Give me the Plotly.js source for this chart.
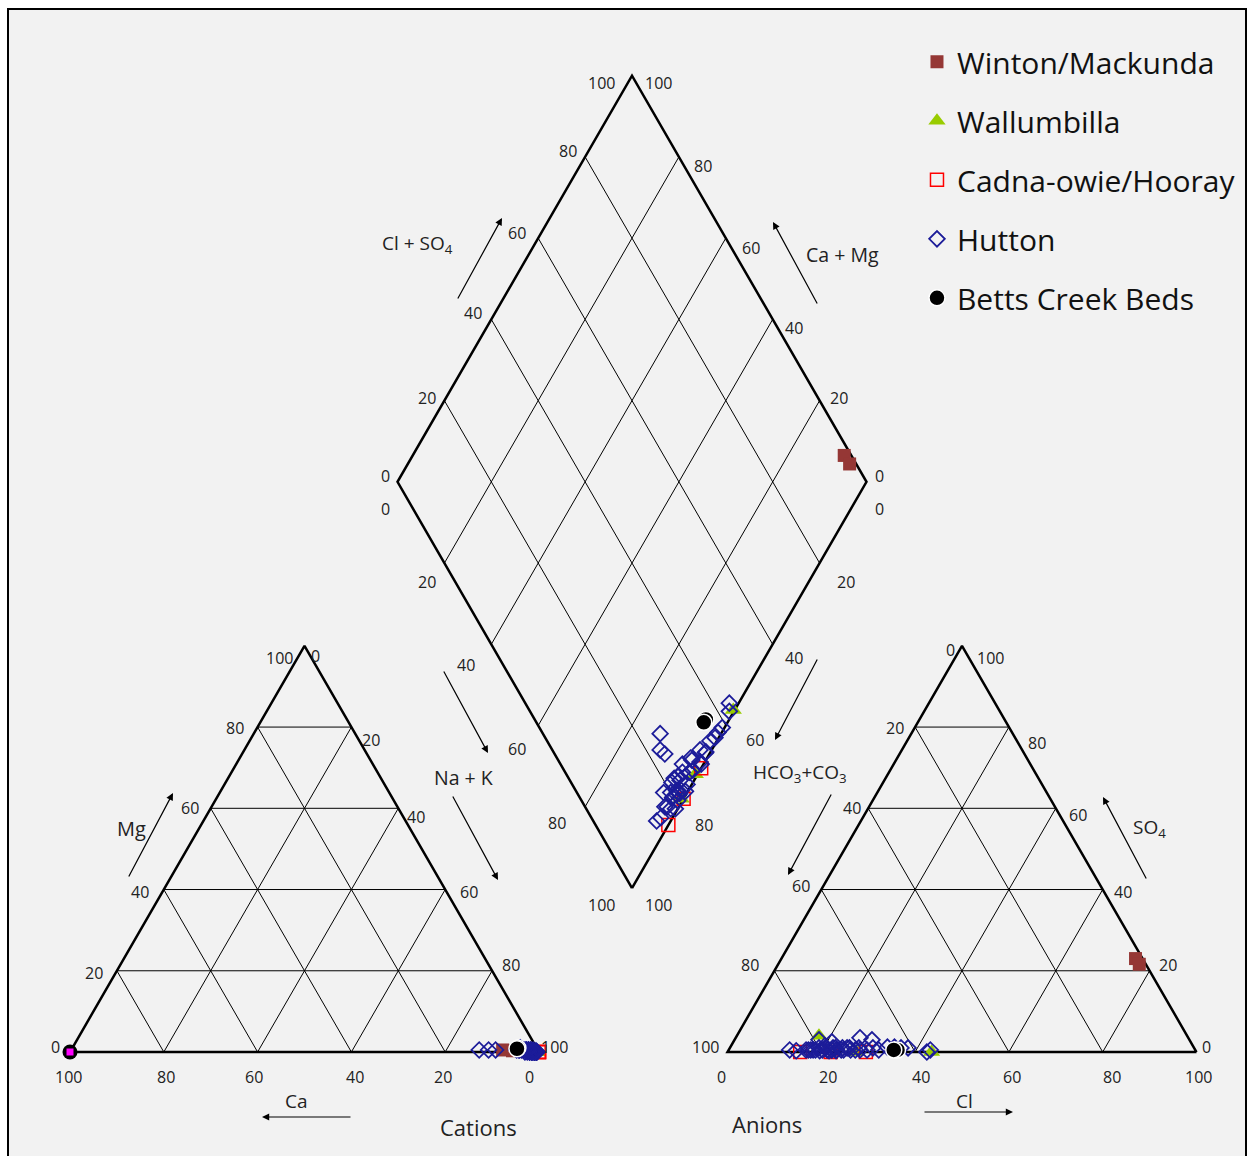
<!DOCTYPE html>
<html>
<head>
<meta charset="utf-8">
<script src="https://cdn.plot.ly/plotly-3.0.1.min.js"></script>
<style>
html,body{margin:0;padding:0;background:#ffffff;}
#chart{width:1251px;height:1156px;}
</style>
</head>
<body>
<div id="chart"></div>
<script>
// ---------------- DATA (percent of meq) ----------------
const seriesNames = ["Winton/Mackunda", "Wallumbilla", "Cadna-owie/Hooray", "Hutton", "Betts Creek Beds"];

// Winton/Mackunda
const wintonCa  = [7.5, 5.5];
const wintonMg  = [0.5, 0.3];
const wintonCl  = [75.5, 77.0];
const wintonSO4 = [23.0, 21.6];

// Wallumbilla
const wallCa  = [0.5, 0.5, 0.3];
const wallMg  = [0.0, 0.0, 0.0];
const wallCl  = [17.5, 27.5, 43.5];
const wallSO4 = [4.0, 0.0, 0.0];

// Cadna-owie/Hooray
const cadnaCa  = [0.0, 0.0, 0.0];
const cadnaMg  = [0.0, 0.0, 0.0];
const cadnaCl  = [15.5, 22.0, 29.5];
const cadnaSO4 = [0.0, 0.0, 0.0];

// Hutton
const huttonCa  = [12.5, 10.5, 9.0, 2.5, 1.5, 0.5, 0.5, 0.8, 1.5, 2.0, 3.0, 4.0, 1.0, 2.0, 1.0,
                   1.0, 2.0, 3.0, 1.5, 2.5, 3.5, 1.0, 2.0, 4.0, 0.5, 2.0, 3.0, 1.5, 2.5, 0.5,
                   3.0, 1.0, 2.0, 4.5, 1.5, 2.5, 0.5, 1.0, 3.5, 1.5, 2.0, 1.0];
const huttonMg  = [0.5, 0.5, 0.5, 0.5, 0.5, 0.0, 0.3, 0.0, 0.0, 0.5, 0.5, 0.5, 0.0, 0.0, 0.0,
                   0.0, 0.5, 0.5, 0.0, 0.5, 1.0, 0.0, 0.0, 0.5, 0.0, 0.5, 0.0, 0.5, 0.0, 0.0,
                   0.5, 0.5, 0.0, 0.5, 0.0, 0.5, 0.0, 0.0, 0.5, 0.0, 0.5, 0.0];
const huttonCl  = [24.0, 22.0, 22.5, 13.0, 43.0, 38.0, 36.5, 35.0, 33.5, 30.5, 27.5, 25.0, 29.3, 18.0, 42.5,
                   20.0, 21.0, 19.0, 22.0, 23.0, 20.5, 24.0, 25.5, 22.0, 18.5, 17.0, 16.5, 26.0, 19.5, 23.0,
                   24.5, 21.5, 20.0, 18.0, 27.0, 28.0, 29.5, 32.0, 21.0, 17.5, 14.5, 26.5];
const huttonSO4 = [1.0, 1.0, 1.0, 0.5, 0.5, 1.0, 1.0, 1.2, 1.2, 1.0, 1.0, 1.0, 3.0, 3.0, 0.0,
                   0.5, 0.5, 1.0, 0.5, 0.5, 1.0, 0.5, 1.0, 0.5, 0.5, 0.5, 0.5, 0.5, 0.3, 0.3,
                   0.5, 0.3, 1.5, 0.5, 0.5, 0.5, 0.5, 0.5, 2.5, 0.5, 0.3, 3.5];

// Betts Creek Beds
const bettsCa  = [4.0, 4.3];
const bettsMg  = [1.0, 0.8];
const bettsCl  = [36.0, 35.2];
const bettsSO4 = [0.5, 0.5];

// unlabelled sample plotted only in the cation triangle
const extraCa = [100];
const extraMg = [0];

// tick labels
const tickVals = [0, 20, 40, 60, 80, 100];
const gridVals = [20, 40, 60, 80];

// ---------------- GEOMETRY ----------------
const S = 469;
const H = S * Math.sqrt(3) / 2;
const CAT = {x: 70, y: 1052};      // cation bottom-left vertex
const AN  = {x: 727.5, y: 1052};   // anion bottom-left vertex
const DIA = {x: 632, y: 888};      // diamond bottom vertex

// cation: u = Ca fraction, v = Mg fraction (Na+K = 1-u-v)
function cat(u, v) { const na = 1 - u - v; return [CAT.x + S * na + S / 2 * v, CAT.y - H * v]; }
// anion: u = Cl fraction, v = SO4 fraction (HCO3 = 1-u-v)
function an(u, v) { return [AN.x + S * u + S / 2 * v, AN.y - H * v]; }
// diamond: a = (Cl+SO4) fraction, c = (Ca+Mg) fraction
function dia(a, c) { return [DIA.x + S / 2 * (a - c), DIA.y - H * (a + c)]; }

function triGridXY(fn) {
  const xs = [], ys = [];
  const add = (p, q) => { xs.push(p[0], q[0], null); ys.push(p[1], q[1], null); };
  gridVals.forEach(g => {
    const t = g / 100;
    add(fn(t, 0), fn(t, 1 - t));
    add(fn(0, t), fn(1 - t, t));
    add(fn(1 - t, 0), fn(0, 1 - t));
  });
  return {xs, ys};
}
function triOutline(fn) {
  const pts = [fn(1, 0), fn(0, 0), fn(0, 1), fn(1, 0)];
  return {xs: pts.map(p => p[0]), ys: pts.map(p => p[1])};
}
function diaGridXY() {
  const xs = [], ys = [];
  gridVals.forEach(g => {
    const t = g / 100;
    let p = dia(t, 0), q = dia(t, 1); xs.push(p[0], q[0], null); ys.push(p[1], q[1], null);
    p = dia(0, t); q = dia(1, t); xs.push(p[0], q[0], null); ys.push(p[1], q[1], null);
  });
  return {xs, ys};
}
function diaOutline() {
  const pts = [dia(0, 0), dia(1, 0), dia(1, 1), dia(0, 1), dia(0, 0)];
  return {xs: pts.map(p => p[0]), ys: pts.map(p => p[1])};
}

function seriesXY(ca, mg, cl, so4) {
  const xs = [], ys = [];
  for (let i = 0; i < ca.length; i++) {
    const p = cat(ca[i] / 100, mg[i] / 100); xs.push(p[0]); ys.push(p[1]);
  }
  for (let i = 0; i < cl.length; i++) {
    const p = an(cl[i] / 100, so4[i] / 100); xs.push(p[0]); ys.push(p[1]);
  }
  for (let i = 0; i < ca.length; i++) {
    const p = dia((cl[i] + so4[i]) / 100, (ca[i] + mg[i]) / 100); xs.push(p[0]); ys.push(p[1]);
  }
  return {xs, ys};
}

const traces = [];
function lineTrace(o, w) {
  traces.push({x: o.xs, y: o.ys, mode: 'lines', line: {color: '#000', width: w},
               hoverinfo: 'skip', showlegend: false, cliponaxis: false});
}
lineTrace(triGridXY(cat), 1);
lineTrace(triGridXY(an), 1);
lineTrace(diaGridXY(), 1);
lineTrace(triOutline(cat), 2.5);
lineTrace(triOutline(an), 2.5);
lineTrace(diaOutline(), 2.5);

// extra sample in cation triangle
(function(){
  const xs = [], ys = [];
  for (let i = 0; i < extraCa.length; i++) { const p = cat(extraCa[i] / 100, extraMg[i] / 100); xs.push(p[0]); ys.push(p[1]); }
  traces.push({x: xs, y: ys, mode: 'markers', showlegend: false, hoverinfo: 'skip', cliponaxis: false,
               marker: {symbol: 'circle', size: 15, color: '#000'}});
  traces.push({x: xs, y: ys, mode: 'markers', showlegend: false, hoverinfo: 'skip', cliponaxis: false,
               marker: {symbol: 'square', size: 7, color: '#ff00ff'}});
})();

const styles = [
  {symbol: 'square', size: 13, color: '#953735', line: {width: 0}},
  {symbol: 'triangle-up', size: 15, color: '#99cc00', line: {width: 0}},
  {symbol: 'square-open', size: 13, color: '#ff0000', line: {width: 1.5, color: '#ff0000'}},
  {symbol: 'diamond-open', size: 12, color: '#1c1c99', line: {width: 1.8, color: '#1c1c99'}},
  {symbol: 'circle', size: 16, color: '#000000', line: {width: 1.5, color: '#ffffff'}}
];
const dataSets = [
  [wintonCa, wintonMg, wintonCl, wintonSO4],
  [wallCa, wallMg, wallCl, wallSO4],
  [cadnaCa, cadnaMg, cadnaCl, cadnaSO4],
  [huttonCa, huttonMg, huttonCl, huttonSO4],
  [bettsCa, bettsMg, bettsCl, bettsSO4]
];
dataSets.forEach((d, i) => {
  const xy = seriesXY(d[0], d[1], d[2], d[3]);
  traces.push({x: xy.xs, y: xy.ys, mode: 'markers', name: seriesNames[i], legendgroup: 'g' + i,
               marker: styles[i], cliponaxis: false, hoverinfo: 'skip'});
});

// ---------------- TICK LABELS ----------------
const annotations = [];
const tickFont = {family: 'Open Sans, sans-serif', size: 16, color: '#222'};
// label placement per side: position function, anchor, and per-tick pixel offsets
const tickSides = [
  // cation triangle
  {pos: f => cat(f, 0),         anchor: 'center', dx: [-10, -2, 4, -4, 2, -2],   dy: [25, 25, 25, 25, 25, 25]},   // Ca
  {pos: f => cat(1 - f, f),     anchor: 'right',  dx: [-8, -12, -13, -10, -12, -10], dy: [-5, 2, 2, 0, 1, 12]},   // Mg
  {pos: f => cat(0, 1 - f),     anchor: 'left',   dx: [4, 9, 7, 13, 8, 0],       dy: [10, 13, 9, 2, -6, -5]},     // Na+K
  // anion triangle
  {pos: f => an(f, 0),          anchor: 'center', dx: [-6, 7, 6, 3, 9, 2],       dy: [25, 25, 25, 25, 25, 25]},   // Cl
  {pos: f => an(0, 1 - f),      anchor: 'right',  dx: [-5, -9, -5, -9, -13, -7], dy: [4, 1, 0, -4, -6, -5]},      // HCO3
  {pos: f => an(1 - f, f),      anchor: 'left',   dx: [3, 7, 9, 11, 17, 13],     dy: [-5, -6, 2, 7, 16, 12]},     // SO4
  // diamond
  {pos: f => dia(f, 1),         anchor: 'right',  dx: [-6, -6, -7, -10, -6, -15], dy: [-6, -3, -6, -5, -6, 7]},   // Cl+SO4
  {pos: f => dia(1, f),         anchor: 'left',   dx: [6, 8, 10, 14, 13, 11],    dy: [-6, -3, 9, 10, 9, 7]},      // Ca+Mg
  {pos: f => dia(0, 1 - f),     anchor: 'right',  dx: [-6, -6, -14, -10, -17, -15], dy: [27, 19, 21, 23, 16, 17]}, // Na+K
  {pos: f => dia(1 - f, 0),     anchor: 'left',   dx: [6, 15, 10, 18, 14, 11],   dy: [27, 19, 14, 14, 18, 17]}    // HCO3+CO3
];
tickSides.forEach(side => {
  tickVals.forEach((v, i) => {
    const p = side.pos(v / 100);
    annotations.push({x: p[0] + side.dx[i], y: p[1] + side.dy[i], xref: 'x', yref: 'y', text: String(v),
                      showarrow: false, xanchor: side.anchor, yanchor: 'middle', font: tickFont});
  });
});

// ---------------- AXIS NAMES ----------------
const nameFont = {family: 'Open Sans, sans-serif', size: 19, color: '#222'};
function label(x, y, text, size) {
  annotations.push({x: x, y: y, xref: 'x', yref: 'y', text: text, showarrow: false,
                    xanchor: 'center', yanchor: 'middle',
                    font: Object.assign({}, nameFont, size ? {size: size} : {})});
}
label(417, 244, 'Cl + SO<sub>4</sub>', 19);
label(842, 254, 'Ca + Mg', 19.5);
label(463, 777, 'Na + K', 19.5);
label(800, 773, 'HCO<sub>3</sub>+CO<sub>3</sub>', 19);
label(131, 828, 'Mg', 20);
label(296, 1101, 'Ca', 19);
label(964, 1101, 'Cl', 19);
label(1149, 828, 'SO<sub>4</sub>', 19);
label(478, 1127, 'Cations', 22);
label(767, 1124, 'Anions', 22);

function arrow(x0, y0, x1, y1) {
  annotations.push({x: x1, y: y1, ax: x0, ay: y0, xref: 'x', yref: 'y', axref: 'x', ayref: 'y',
                    text: '', showarrow: true, arrowhead: 2, arrowsize: 1.2, arrowwidth: 1.2,
                    arrowcolor: '#000', standoff: 0, startstandoff: 0});
}
arrow(457, 300, 502, 218);
arrow(818, 305, 773, 222);
arrow(443, 670, 488, 753);
arrow(452, 795, 498, 880);
arrow(818, 658, 775, 740);
arrow(832, 793, 788, 875);
arrow(128, 878, 173, 793);
arrow(352, 1117, 262, 1117);
arrow(923, 1112, 1013, 1112);
arrow(1147, 880, 1103, 797);

const layout = {
  width: 1251, height: 1156,
  margin: {l: 0, r: 0, t: 0, b: 0},
  paper_bgcolor: '#ffffff',
  plot_bgcolor: 'rgba(0,0,0,0)',
  xaxis: {range: [0, 1251], visible: false, fixedrange: true},
  yaxis: {range: [1156, 0], visible: false, fixedrange: true},
  showlegend: true,
  legend: {x: 0.733, y: 0.969, xanchor: 'left', yanchor: 'top', bgcolor: 'rgba(0,0,0,0)',
           font: {family: 'Open Sans, sans-serif', size: 30, color: '#111'},
           tracegroupgap: 17, traceorder: 'grouped', itemsizing: 'trace'},
  hovermode: false,
  annotations: annotations,
  shapes: [{type: 'rect', xref: 'x', yref: 'y', x0: 8, y0: 9, x1: 1246, y1: 1170,
            fillcolor: '#f2f2f2', line: {color: '#000', width: 2}, layer: 'below'}]
};

Plotly.newPlot('chart', traces, layout, {staticPlot: true, displayModeBar: false});
</script>
</body>
</html>
